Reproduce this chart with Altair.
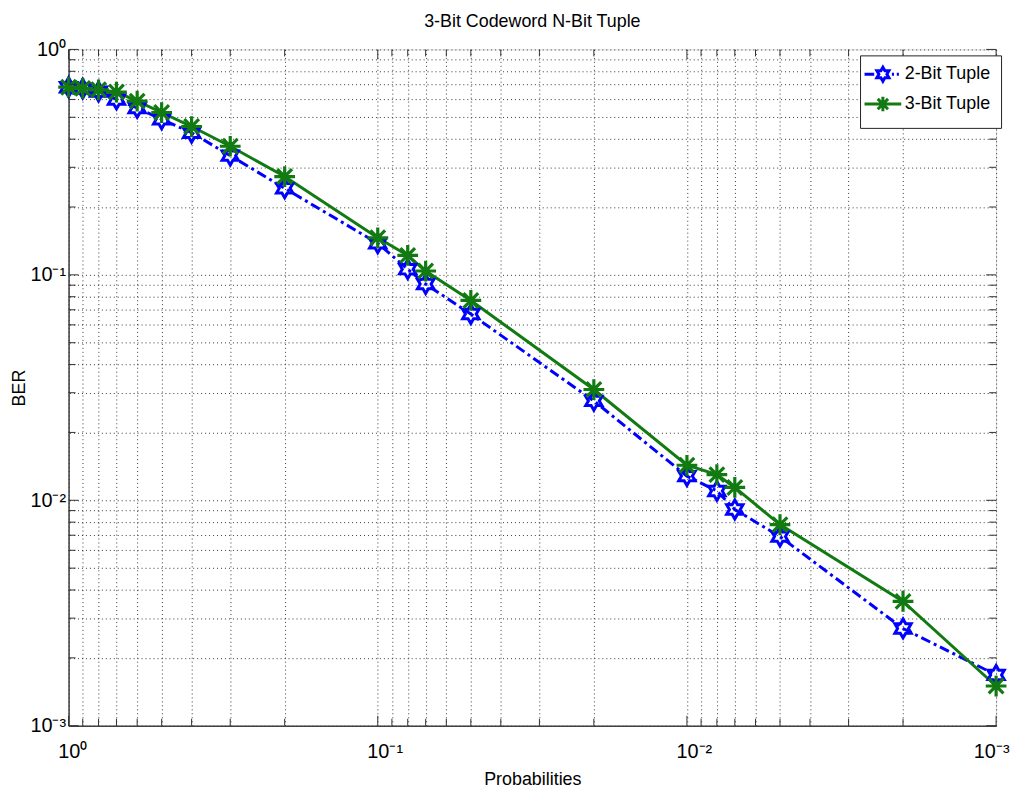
import math
import altair as alt
import pandas as pd

# ---------------- data ----------------
probs = [1, 0.9, 0.8, 0.7, 0.6, 0.5, 0.4, 0.3, 0.2, 0.1, 0.08, 0.07, 0.05,
         0.02, 0.01, 0.008, 0.007, 0.005, 0.002, 0.001]
ber_2bit = [0.68, 0.67, 0.65, 0.60, 0.55, 0.49, 0.427, 0.338, 0.242, 0.138,
            0.106, 0.091, 0.067, 0.0276, 0.0128, 0.011, 0.0091, 0.0069,
            0.0027, 0.00168]
ber_3bit = [0.68, 0.672, 0.662, 0.647, 0.59, 0.525, 0.455, 0.372, 0.273,
            0.146, 0.122, 0.104, 0.077, 0.031, 0.0143, 0.013, 0.0114, 0.0078,
            0.00356, 0.0015]
series_names = ["2-Bit Tuple", "3-Bit Tuple"]

major_ticks = [1, 0.1, 0.01, 0.001]
minor_ticks = [0.9, 0.8, 0.7, 0.6, 0.5, 0.4, 0.3, 0.2,
               0.09, 0.08, 0.07, 0.06, 0.05, 0.04, 0.03, 0.02,
               0.009, 0.008, 0.007, 0.006, 0.005, 0.004, 0.003, 0.002]
all_ticks = major_ticks + minor_ticks

df = pd.DataFrame({
    "prob": probs * 2,
    "ber": ber_2bit + ber_3bit,
    "series": [series_names[0]] * len(probs) + [series_names[1]] * len(probs),
})
df_major = pd.DataFrame({"t": major_ticks})
df_minor = pd.DataFrame({"t": minor_ticks})

# ---------------- style ----------------
W, H = 934, 681
FONT = "Liberation Sans, Arial, Helvetica, sans-serif"
BLUE = "#0000ff"
GREEN = "#117a11"


def hexagram(R):
    pts = []
    for k in range(12):
        ang = math.radians(-90 + 30 * k)
        rr = R if k % 2 == 0 else R / math.sqrt(3)
        pts.append(f"{rr * math.cos(ang):.3f},{rr * math.sin(ang):.3f}")
    return "M" + "L".join(pts) + "Z"


def asterisk(R):
    d = R * 0.7071
    return (f"M0,{-R}L0,{R}M{-R},0L{R},0"
            f"M{-d:.3f},{-d:.3f}L{d:.3f},{d:.3f}M{-d:.3f},{d:.3f}L{d:.3f},{-d:.3f}")


HEX_PATH = hexagram(1.0)
AST_PATH = asterisk(1.1)
LEG_BLUE = hexagram(1.0) + "M-2.64,0H-1.25M1.3,0H1.6M2.0,0H2.3"
LEG_GREEN = asterisk(1.05) + "M-2.64,0H2.64"

xscale = alt.Scale(type="log", domain=[0.001, 1], reverse=True, nice=False)
yscale = alt.Scale(type="log", domain=[0.001, 1], nice=False)

label_expr = ("datum.value == 1 ? '10⁰' : datum.value == 0.1 ? '10⁻¹' : "
              "datum.value == 0.01 ? '10⁻²' : datum.value == 0.001 ? '10⁻³' : ''")

common_axis = dict(
    values=all_ticks, labelExpr=label_expr, grid=True, ticks=False,
    gridDash=[1, 3], gridColor="#222222", gridOpacity=0.9, gridWidth=1,
    domainColor="#404040", domainWidth=1.5,
    labelFont=FONT, labelFontSize=20, labelColor="black",
    labelOverlap=False, labelFlush=False,
    titleFont=FONT, titleFontSize=18, titleFontWeight="normal", titleColor="black",
)

last_test = "datum.value < 0.0015"
x_axis = alt.Axis(
    title="Probabilities",
    labelAlign={"condition": {"test": last_test, "value": "right"}, "value": "left"},
    labelOffset={"condition": {"test": last_test, "value": 13}, "value": -11},
    labelPadding=16, titleX=W / 2, titleY=59,
    titleBaseline="alphabetic", **common_axis)
y_axis = alt.Axis(title="BER", labelPadding=3, titleX=-44, titleY=H / 2,
                  titleAngle=-90, titleBaseline="alphabetic", titleAlign="center",
                  **common_axis)

X = alt.X("prob:Q", scale=xscale, axis=x_axis)
Y = alt.Y("ber:Q", scale=yscale, axis=y_axis)

base = alt.Chart(df)
s2 = base.transform_filter(alt.datum.series == series_names[0])
s3 = base.transform_filter(alt.datum.series == series_names[1])

line2 = s2.mark_line(color=BLUE, strokeWidth=3, strokeDash=[10, 4, 3, 4]).encode(x=X, y=Y)
line3 = s3.mark_line(color=GREEN, strokeWidth=3).encode(x=X, y=Y)
pts2 = s2.mark_point(shape=HEX_PATH, size=360, filled=False, color=BLUE,
                     strokeWidth=3, opacity=1).encode(x=X, y=Y)
pts3 = s3.mark_point(shape=AST_PATH, size=360, filled=False, color=GREEN,
                     strokeWidth=3.2, opacity=1).encode(x=X, y=Y)

legend = alt.Legend(
    title=None, orient="none", legendX=797, legendY=6,
    strokeColor="#222222", fillColor="white", padding=10, cornerRadius=0,
    labelFont=FONT, labelFontSize=18, labelColor="black", labelOffset=13,
    symbolOffset=4, symbolSize=196, symbolStrokeWidth=3, rowPadding=3,
    symbolOpacity=1,
)
# legend-only layer: no marks drawn, entries come from the explicit domains
legend_layer = base.transform_filter("false").mark_point(filled=False, opacity=1).encode(
    x=X, y=Y,
    color=alt.Color("series:N", scale=alt.Scale(domain=series_names, range=[BLUE, GREEN]),
                    legend=legend),
    shape=alt.Shape("series:N", scale=alt.Scale(domain=series_names, range=[LEG_BLUE, LEG_GREEN]),
                    legend=legend),
)

TICK_COLOR = "#303030"
xt = alt.X("t:Q", scale=xscale, axis=x_axis)
yt = alt.Y("t:Q", scale=yscale, axis=y_axis)
tick_layers = []
for dfx, ln in ((df_major, 10), (df_minor, 7)):
    tick_layers += [
        alt.Chart(dfx).mark_rule(color=TICK_COLOR, strokeWidth=1).encode(
            x=xt, y=alt.value(H), y2=alt.value(H - ln)),
        alt.Chart(dfx).mark_rule(color=TICK_COLOR, strokeWidth=1).encode(
            x=xt, y=alt.value(0), y2=alt.value(ln)),
        alt.Chart(dfx).mark_rule(color=TICK_COLOR, strokeWidth=1).encode(
            y=yt, x=alt.value(0), x2=alt.value(ln)),
        alt.Chart(dfx).mark_rule(color=TICK_COLOR, strokeWidth=1).encode(
            y=yt, x=alt.value(W), x2=alt.value(W - ln)),
    ]

chart = alt.layer(line2, line3, pts2, pts3, legend_layer, *tick_layers).properties(
    width=W, height=H,
    title=alt.TitleParams("3-Bit Codeword N-Bit Tuple", font=FONT, fontSize=18,
                          fontWeight="normal", color="black", anchor="middle",
                          frame="group", baseline="alphabetic", offset=3, dy=8),
    autosize=alt.AutoSizeParams(type="none"),
    padding={"left": 61, "top": 39, "right": 14, "bottom": 60},
).configure_view(stroke="#404040", strokeWidth=1.5).configure(background="white")

chart.save("out.html", embed_options={"renderer": "svg", "actions": False})
